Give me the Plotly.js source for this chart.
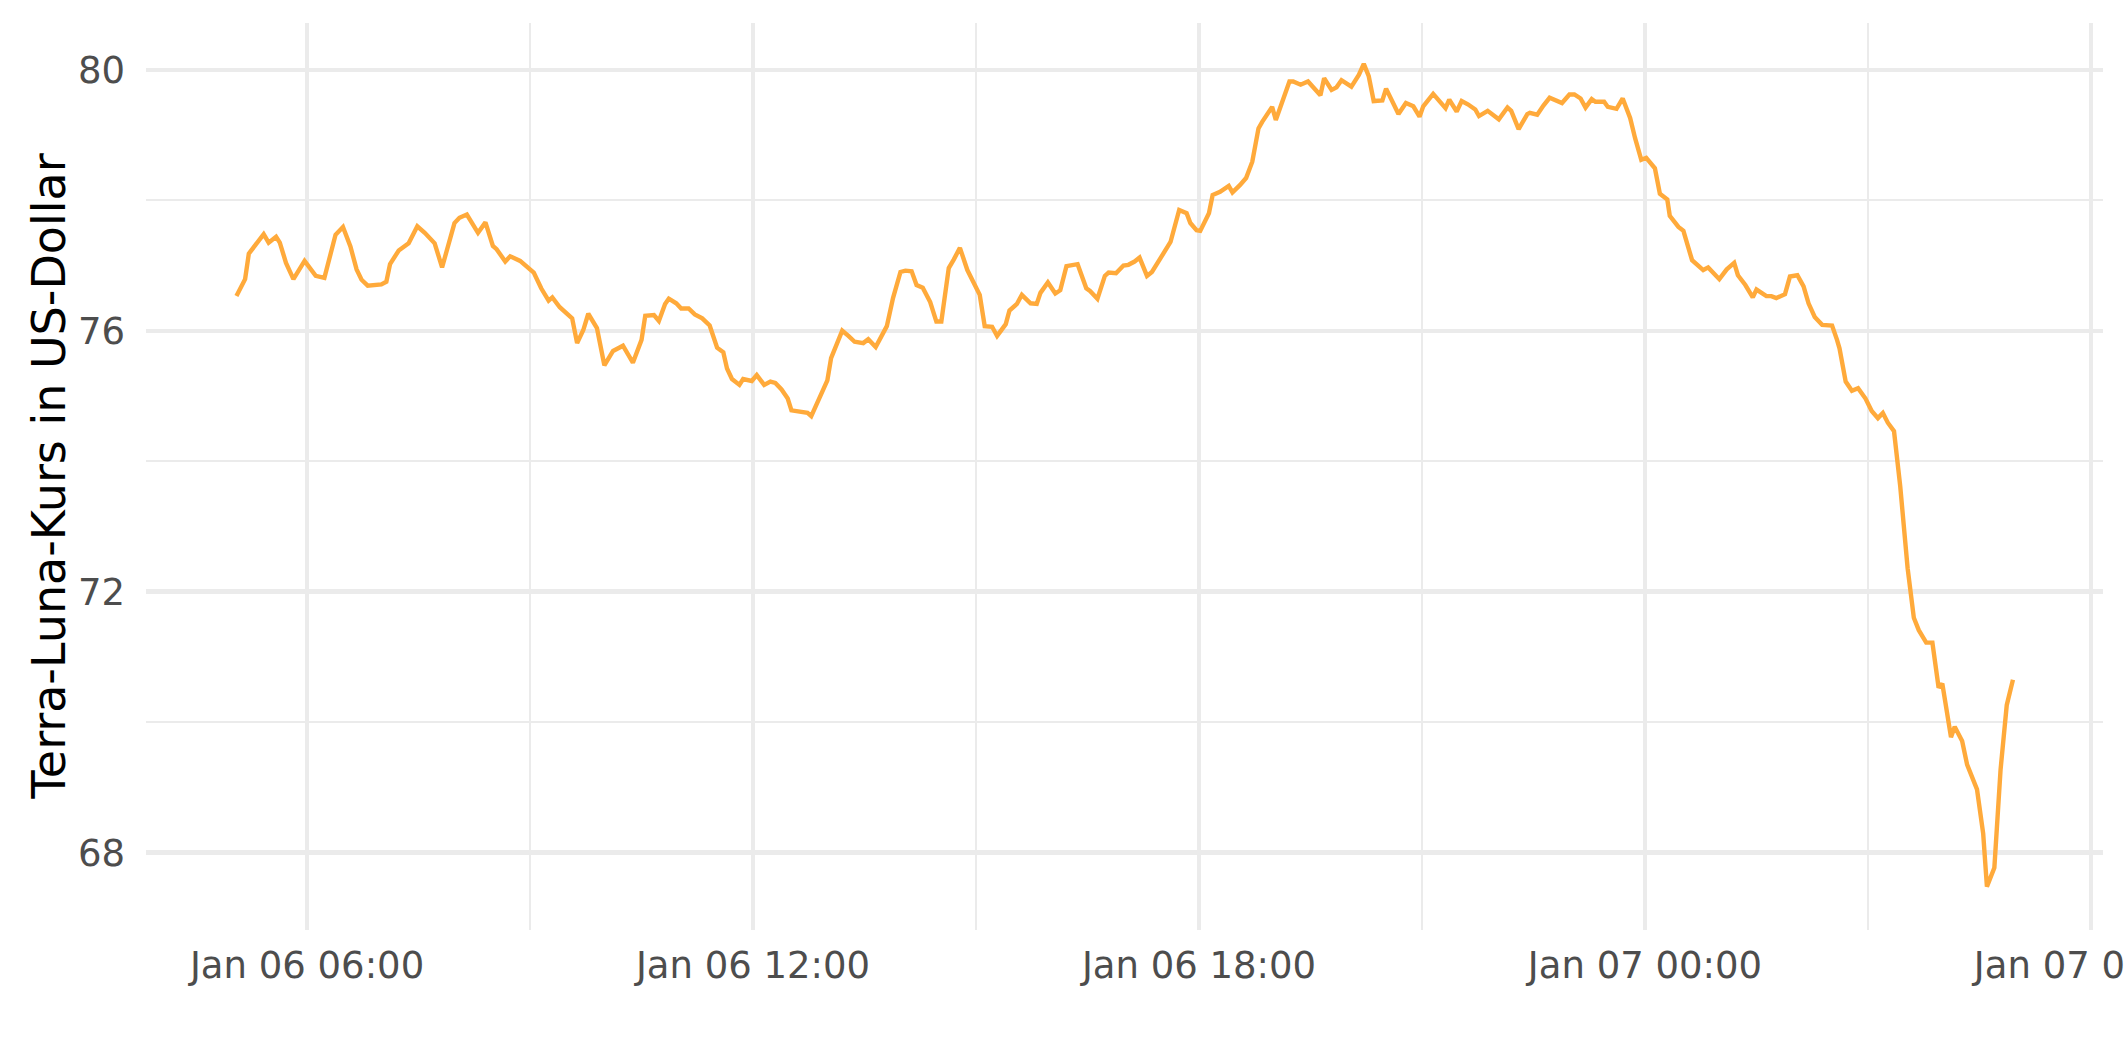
<!DOCTYPE html>
<html>
<head>
<meta charset="utf-8">
<script src="https://cdn.plot.ly/plotly-3.0.1.min.js"></script>
<style>
  html, body { margin: 0; padding: 0; background: #ffffff; }
  #chart { width: 2125px; height: 1062px; }
</style>
</head>
<body>
<div id="chart"></div>
<script>
// Terra-Luna price (USD), Jan 06 2022 05:00 – Jan 07 2022 05:00
const times = [
  "2022-01-06 05:03","2022-01-06 05:10","2022-01-06 05:13","2022-01-06 05:18","2022-01-06 05:25","2022-01-06 05:29",
  "2022-01-06 05:35","2022-01-06 05:38","2022-01-06 05:43","2022-01-06 05:49","2022-01-06 05:58","2022-01-06 06:07",
  "2022-01-06 06:14","2022-01-06 06:23","2022-01-06 06:29","2022-01-06 06:35","2022-01-06 06:40","2022-01-06 06:44",
  "2022-01-06 06:49","2022-01-06 07:00","2022-01-06 07:04","2022-01-06 07:07","2022-01-06 07:14","2022-01-06 07:22",
  "2022-01-06 07:29","2022-01-06 07:35","2022-01-06 07:41","2022-01-06 07:43","2022-01-06 07:49","2022-01-06 07:55",
  "2022-01-06 07:59","2022-01-06 08:03","2022-01-06 08:09","2022-01-06 08:18","2022-01-06 08:24","2022-01-06 08:30",
  "2022-01-06 08:33","2022-01-06 08:40","2022-01-06 08:44","2022-01-06 08:52","2022-01-06 08:57","2022-01-06 09:03",
  "2022-01-06 09:09","2022-01-06 09:15","2022-01-06 09:18","2022-01-06 09:24","2022-01-06 09:34","2022-01-06 09:38",
  "2022-01-06 09:43","2022-01-06 09:47","2022-01-06 09:54","2022-01-06 10:00","2022-01-06 10:07","2022-01-06 10:15",
  "2022-01-06 10:23","2022-01-06 10:30","2022-01-06 10:33",
  "2022-01-06 10:40","2022-01-06 10:44","2022-01-06 10:49","2022-01-06 10:52","2022-01-06 10:58","2022-01-06 11:02",
  "2022-01-06 11:08","2022-01-06 11:13","2022-01-06 11:19","2022-01-06 11:25","2022-01-06 11:28","2022-01-06 11:31",
  "2022-01-06 11:36","2022-01-06 11:39","2022-01-06 11:43","2022-01-06 11:49","2022-01-06 11:52","2022-01-06 11:59",
  "2022-01-06 12:03","2022-01-06 12:09","2022-01-06 12:14","2022-01-06 12:18","2022-01-06 12:23","2022-01-06 12:28",
  "2022-01-06 12:31","2022-01-06 12:38","2022-01-06 12:44","2022-01-06 12:47","2022-01-06 12:54","2022-01-06 13:00",
  "2022-01-06 13:03","2022-01-06 13:08","2022-01-06 13:12","2022-01-06 13:17","2022-01-06 13:22","2022-01-06 13:29",
  "2022-01-06 13:33","2022-01-06 13:39","2022-01-06 13:44","2022-01-06 13:48","2022-01-06 13:53","2022-01-06 13:59",
  "2022-01-06 14:03","2022-01-06 14:08","2022-01-06 14:12","2022-01-06 14:17","2022-01-06 14:23","2022-01-06 14:28",
  "2022-01-06 14:32","2022-01-06 14:38","2022-01-06 14:42","2022-01-06 14:47","2022-01-06 14:53","2022-01-06 14:58",
  "2022-01-06 15:03","2022-01-06 15:07","2022-01-06 15:13","2022-01-06 15:17",
  "2022-01-06 15:24","2022-01-06 15:27","2022-01-06 15:33","2022-01-06 15:37","2022-01-06 15:44","2022-01-06 15:49",
  "2022-01-06 15:52","2022-01-06 15:58","2022-01-06 16:04","2022-01-06 16:08","2022-01-06 16:13","2022-01-06 16:22",
  "2022-01-06 16:29","2022-01-06 16:32","2022-01-06 16:38","2022-01-06 16:44","2022-01-06 16:47","2022-01-06 16:53",
  "2022-01-06 16:59","2022-01-06 17:03","2022-01-06 17:08","2022-01-06 17:12","2022-01-06 17:18","2022-01-06 17:22",
  "2022-01-06 17:29","2022-01-06 17:37","2022-01-06 17:44","2022-01-06 17:50","2022-01-06 17:53","2022-01-06 17:58",
  "2022-01-06 18:01","2022-01-06 18:08","2022-01-06 18:11","2022-01-06 18:17","2022-01-06 18:24","2022-01-06 18:27",
  "2022-01-06 18:33","2022-01-06 18:38",
  "2022-01-06 18:43","2022-01-06 18:48","2022-01-06 18:51","2022-01-06 18:59","2022-01-06 19:02","2022-01-06 19:07",
  "2022-01-06 19:13","2022-01-06 19:16","2022-01-06 19:22","2022-01-06 19:28","2022-01-06 19:38","2022-01-06 19:41",
  "2022-01-06 19:47","2022-01-06 19:51","2022-01-06 19:55","2022-01-06 20:03","2022-01-06 20:09","2022-01-06 20:13",
  "2022-01-06 20:17","2022-01-06 20:21","2022-01-06 20:28","2022-01-06 20:31","2022-01-06 20:41",
  "2022-01-06 20:47","2022-01-06 20:53","2022-01-06 20:58","2022-01-06 21:01","2022-01-06 21:09","2022-01-06 21:15",
  "2022-01-06 21:19","2022-01-06 21:22","2022-01-06 21:28","2022-01-06 21:32","2022-01-06 21:37","2022-01-06 21:43",
  "2022-01-06 21:46","2022-01-06 21:53","2022-01-06 22:02","2022-01-06 22:09","2022-01-06 22:12","2022-01-06 22:18",
  "2022-01-06 22:25","2022-01-06 22:27","2022-01-06 22:33","2022-01-06 22:38","2022-01-06 22:43","2022-01-06 22:53",
  "2022-01-06 22:59","2022-01-06 23:03","2022-01-06 23:08","2022-01-06 23:12","2022-01-06 23:17","2022-01-06 23:20",
  "2022-01-06 23:27","2022-01-06 23:30","2022-01-06 23:37","2022-01-06 23:42","2022-01-06 23:48","2022-01-06 23:52",
  "2022-01-06 23:57","2022-01-07 00:01","2022-01-07 00:08","2022-01-07 00:12","2022-01-07 00:18","2022-01-07 00:20",
  "2022-01-07 00:27","2022-01-07 00:31","2022-01-07 00:38","2022-01-07 00:47","2022-01-07 00:51","2022-01-07 01:00",
  "2022-01-07 01:06","2022-01-07 01:12","2022-01-07 01:15","2022-01-07 01:21","2022-01-07 01:27","2022-01-07 01:30",
  "2022-01-07 01:38","2022-01-07 01:42","2022-01-07 01:46","2022-01-07 01:53","2022-01-07 01:57","2022-01-07 02:03",
  "2022-01-07 02:08","2022-01-07 02:12","2022-01-07 02:17","2022-01-07 02:23","2022-01-07 02:31","2022-01-07 02:35",
  "2022-01-07 02:37","2022-01-07 02:42","2022-01-07 02:47","2022-01-07 02:52","2022-01-07 02:58","2022-01-07 03:03",
  "2022-01-07 03:08","2022-01-07 03:12","2022-01-07 03:16","2022-01-07 03:21","2022-01-07 03:26","2022-01-07 03:32",
  "2022-01-07 03:37","2022-01-07 03:41","2022-01-07 03:47","2022-01-07 03:52","2022-01-07 03:57","2022-01-07 04:00",
  "2022-01-07 04:07","2022-01-07 04:10","2022-01-07 04:16","2022-01-07 04:20","2022-01-07 04:28","2022-01-07 04:33",
  "2022-01-07 04:36","2022-01-07 04:42","2022-01-07 04:47","2022-01-07 04:52","2022-01-07 04:57"
];
const prices = [
  76.53,76.79,77.18,77.31,77.48,77.35,
  77.44,77.35,77.04,76.79,77.07,76.84,
  76.81,77.47,77.59,77.29,76.94,76.78,
  76.69,76.71,76.75,77.02,77.23,77.34,
  77.60,77.50,77.38,77.34,76.97,77.36,
  77.65,77.73,77.78,77.50,77.66,77.30,
  77.25,77.06,77.14,77.07,76.98,76.89,
  76.65,76.46,76.51,76.36,76.19,75.81,
  76.01,76.26,76.04,75.47,75.69,75.77,
  75.51,75.86,76.23,
  76.24,76.15,76.41,76.49,76.42,76.34,
  76.34,76.25,76.19,76.08,75.90,75.74,
  75.67,75.42,75.26,75.17,75.26,75.23,
  75.32,75.17,75.22,75.20,75.10,74.96,
  74.78,74.75,74.74,74.69,74.97,75.24,
  75.58,75.80,76.00,75.92,75.83,75.81,
  75.87,75.75,75.91,76.07,76.50,76.90,
  76.92,76.91,76.70,76.66,76.44,76.14,
  76.14,76.96,77.09,77.27,76.93,76.73,
  76.55,76.07,76.06,75.92,
  76.10,76.31,76.41,76.55,76.42,76.41,
  76.58,76.74,76.57,76.62,76.99,77.02,
  76.65,76.61,76.49,76.84,76.89,76.88,
  77.00,77.01,77.06,77.12,76.84,76.90,
  77.12,77.36,77.85,77.80,77.65,77.54,
  77.53,77.80,78.08,78.13,78.22,78.12,
  78.23,78.34,
  78.59,79.10,79.20,79.43,79.23,79.49,
  79.82,79.82,79.77,79.82,79.61,79.87,
  79.69,79.73,79.84,79.74,79.92,80.09,
  79.90,79.52,79.53,79.71,79.32,
  79.49,79.44,79.28,79.44,79.63,79.51,
  79.41,79.54,79.36,79.52,79.47,79.39,
  79.29,79.37,79.24,79.42,79.37,79.09,
  79.32,79.34,79.31,79.45,79.57,79.49,
  79.62,79.62,79.56,79.42,79.55,79.51,
  79.51,79.43,79.40,79.56,79.26,78.95,
  78.62,78.65,78.49,78.10,78.01,77.76,
  77.59,77.53,77.08,76.93,76.97,76.79,
  76.94,77.04,76.85,76.70,76.51,76.63,
  76.53,76.53,76.50,76.56,76.83,76.85,
  76.68,76.42,76.21,76.09,76.08,75.86,
  75.73,75.22,75.08,75.12,74.96,74.77,
  74.66,74.74,74.59,74.46,73.62,72.36,
  71.60,71.41,71.22,71.22,70.53,70.59,
  69.77,69.93,69.71,69.35,68.97,68.29,
  67.48,67.77,69.27,70.26,70.65
];
const yTitle = "Terra-Luna-Kurs in US-Dollar";
const xTickFormat = "%b %d %H:%M";

const gridColor = "#EBEBEB";
const tickFont = { family: "DejaVu Sans, sans-serif", size: 37, color: "#4D4D4D" };

const trace = {
  x: times,
  y: prices,
  type: "scatter",
  mode: "lines",
  line: { color: "#FFAA3B", width: 4.4 },
  hoverinfo: "skip",
  cliponaxis: true
};

const layout = {
  width: 2125,
  height: 1062,
  margin: { l: 146, r: 22, t: 23, b: 132, pad: 0 },
  paper_bgcolor: "#ffffff",
  plot_bgcolor: "#ffffff",
  showlegend: false,
  xaxis: {
    type: "date",
    range: ["2022-01-06 03:50", "2022-01-07 06:09:42"],
    tick0: "2022-01-06 00:00",
    dtick: 6 * 3600 * 1000,
    tickformat: xTickFormat,
    showgrid: true,
    gridcolor: gridColor,
    gridwidth: 4.4,
    minor: { dtick: 3 * 3600 * 1000, tick0: "2022-01-06 00:00", showgrid: true, gridcolor: gridColor, gridwidth: 2.2, ticks: "" },
    zeroline: false,
    showline: false,
    ticks: "",
    ticklabelstandoff: 10,
    ticklabeloverflow: "allow",
    tickfont: tickFont,
    automargin: false,
    fixedrange: true
  },
  yaxis: {
    range: [66.815, 80.716],
    tick0: 68,
    dtick: 4,
    showgrid: true,
    gridcolor: gridColor,
    gridwidth: 4.4,
    minor: { dtick: 2, tick0: 68, showgrid: true, gridcolor: gridColor, gridwidth: 2.2, ticks: "" },
    zeroline: false,
    showline: false,
    ticks: "",
    ticklabelstandoff: 20,
    tickfont: tickFont,
    automargin: false,
    fixedrange: true
  },
  annotations: [{
    text: yTitle,
    xref: "paper", yref: "paper",
    x: -0.0496, y: 0.5,
    xanchor: "center", yanchor: "middle",
    textangle: -90,
    showarrow: false,
    font: { family: "DejaVu Sans, sans-serif", size: 46, color: "#000000" }
  }]
};

Plotly.newPlot("chart", [trace], layout, { staticPlot: true, displayModeBar: false });
</script>
</body>
</html>
